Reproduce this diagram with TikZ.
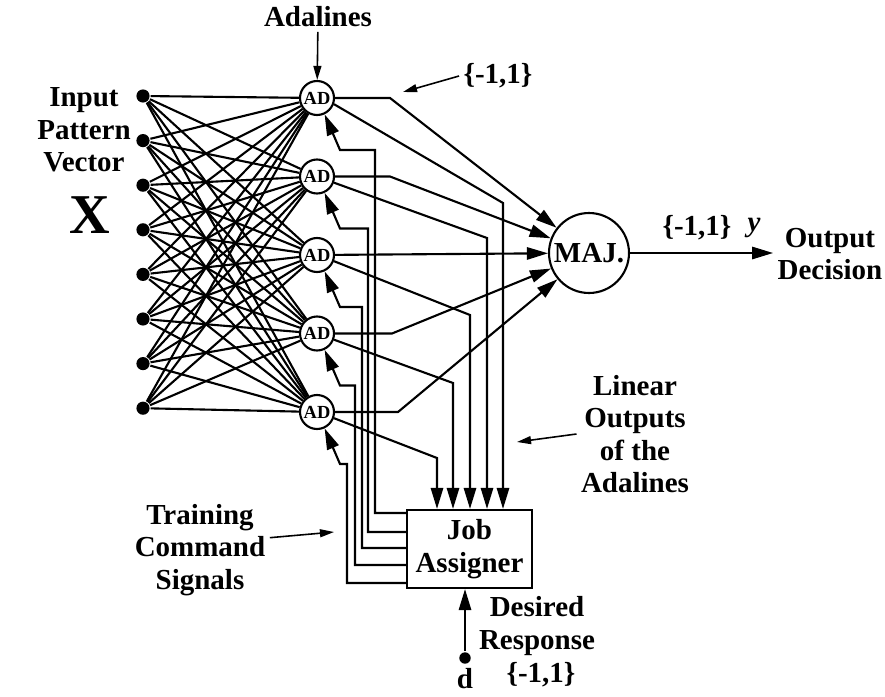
\documentclass[tikz,border=0pt]{standalone}
\usepackage{fontspec}
\setmainfont{Liberation Serif}
\usetikzlibrary{arrows.meta}
\tikzset{
  sig/.style={-{Triangle[length=12pt,width=7pt]}},
  note/.style={-{Triangle[length=8pt,width=4.5pt]}, line width=0.9pt},
  innode/.style={circle, fill, inner sep=0pt, minimum size=7.5pt},
  adnode/.style={draw, circle, fill=white, minimum size=0.68cm, inner sep=0pt,
    font=\fontsize{10.5}{10.5}\selectfont\bfseries},
  lbl/.style={align=center, inner sep=2pt, font=\fontsize{16.5}{18.5}\selectfont\bfseries}
}

\begin{document}
\begin{tikzpicture}[x=0.02cm, y=-0.02cm, line width=1.2pt]
  \useasboundingbox (0,0) rectangle (885,696);
  % input vector and the layer of adalines
  \foreach \i in {1,...,8}
    \node[innode] (x\i) at (143, {96+44.6*(\i-1)}) {};
  \foreach \j in {1,...,5}
    \node[adnode] (ad\j) at (317, {98+78.5*(\j-1)}) {AD};
  \foreach \i in {1,...,8}
    \foreach \j in {1,...,5}
      \draw (x\i) -- (ad\j);

  \node[draw, circle, minimum size=1.6cm, inner sep=0pt,
    font=\fontsize{16.5}{16.5}\selectfont\bfseries] (maj) at (589,253) {MAJ.};
  \node[draw, lbl, minimum width=2.5cm, minimum height=1.56cm] (job) at (469.5,549) {Job\\Assigner};

  % binary outputs to the majority voter
  \coordinate (m1) at (390,98);
  \coordinate (m2) at (390,176.5);
  \coordinate (m4) at (392,333.5);
  \coordinate (m5) at (398,412);
  \draw[sig] (ad1) -- (m1) -- (maj);
  \draw[sig] (ad2) -- (m2) -- (maj);
  \draw[sig] (ad3) -- (maj);
  \draw[sig] (ad4) -- (m4) -- (maj);
  \draw[sig] (ad5) -- (m5) -- (maj);

  % linear outputs to the job assigner
  \foreach \j/\jx/\jy in {1/503/203, 2/487/238, 3/470/315, 4/453/383, 5/437/458} {
    \coordinate (j\j) at (\jx,\jy);
    \draw[sig] (ad\j.-20) -- (j\j) -- (j\j |- job.north);
  }

  % training commands back to the adalines
  \foreach \j/\fx/\fy/\ty in {1/375/513/150, 2/368/532/228.5, 3/362/548/307, 4/355/565/385.5, 5/347/583/464} {
    \coordinate (t\j) at (340,\ty);
    \draw[sig] (job.west |- 0,\fy) -| (\fx,\ty) -- (t\j) -- (ad\j.-65);
  }

  % desired response
  \node[innode, minimum size=6.5pt] (d) at (465,658) {};
  \draw[sig] (d) -- (d |- job.south);
  \node[lbl] at (465,679) {d};
  \node[lbl] (des) at (537,626) {Desired\\Response};
  \node[lbl] at (541,675) {\{-1,1\}};

  % output decision
  \node[lbl] (outd) at (830,254) {Output\\Decision};
  \draw[sig] (maj) -- (outd.west |- maj);
  \node[lbl] at (697,228) {\{-1,1\}};
  \node[lbl] at (754,228) {\textit{y}};

  % annotations
  \node[lbl] (inp) at (84,130) {Input\\Pattern\\Vector};
  \node[font=\fontsize{32}{32}\selectfont\bfseries] (xv) at (90,215) {X};
  \node[lbl] (adl) at (318,17) {Adalines};
  \draw[note] (adl) -- (ad1);
  \node[lbl] (bin) at (498,76) {\{-1,1\}};
  \coordinate (binT) at (403,92);
  \draw[note] (bin.west) -- (binT);
  \node[lbl] (lin) at (635,434) {Linear\\Outputs\\of the\\Adalines};
  \coordinate (linT) at (517,442);
  \draw[note] (lin.west) -- (linT);
  \node[lbl] (tcs) at (200,550) {Training\\Command\\Signals};
  \coordinate (tcsT) at (334,532);
  \draw[note] (tcs.10) -- (tcsT);
\end{tikzpicture}
\end{document}
